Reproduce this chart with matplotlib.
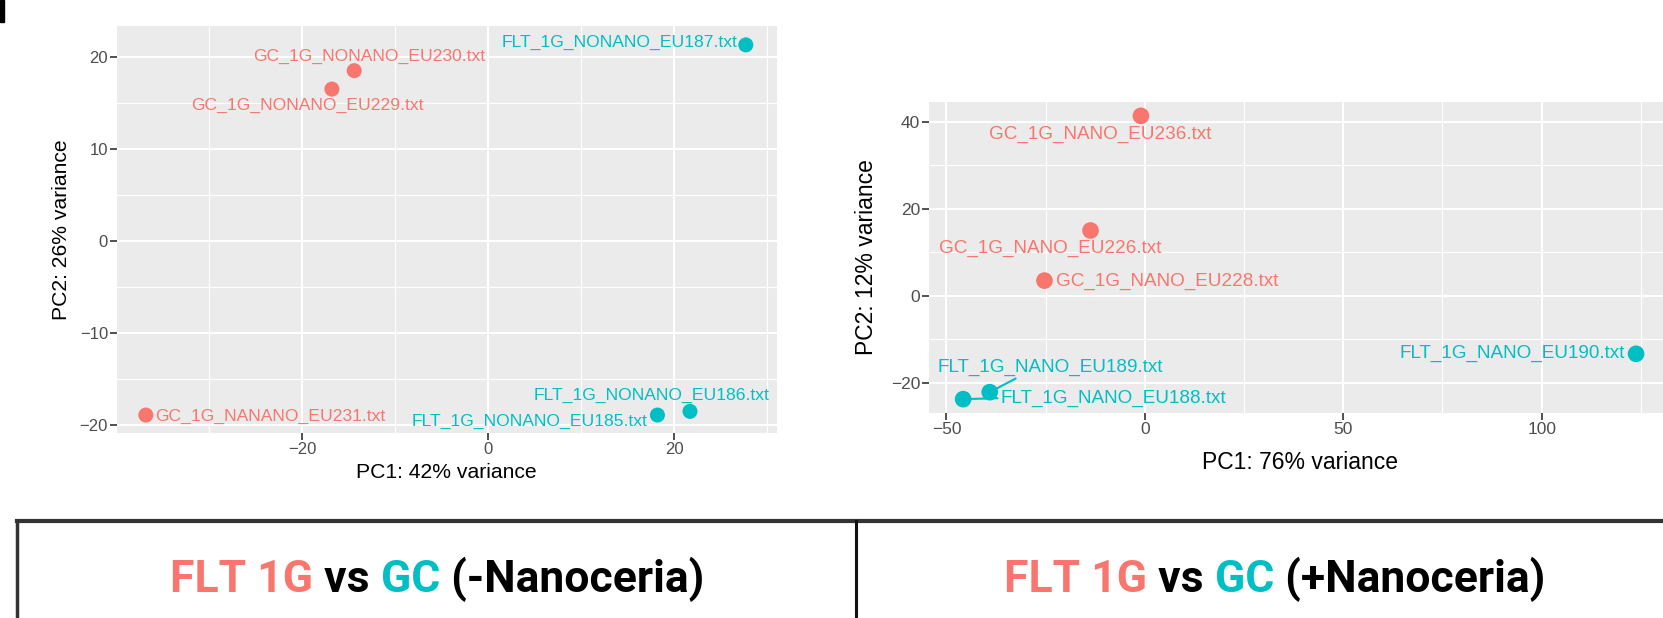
import matplotlib
matplotlib.use("Agg")
import matplotlib.pyplot as plt
from matplotlib.lines import Line2D
from matplotlib.patches import Rectangle

plt.rcParams['font.family'] = ['Liberation Sans', 'DejaVu Sans']

SALMON = "#F8766D"
TEAL = "#00BFC4"

# --- PCA, no nanoceria ---
nonano_names = ["GC_1G_NONANO_EU230.txt", "GC_1G_NONANO_EU229.txt", "FLT_1G_NONANO_EU187.txt",
                "GC_1G_NANANO_EU231.txt", "FLT_1G_NONANO_EU185.txt", "FLT_1G_NONANO_EU186.txt"]
nonano_group = ["GC", "GC", "FLT", "GC", "FLT", "FLT"]
nonano_pc1 = [-14.4, -16.8, 27.7, -36.8, 18.2, 21.7]
nonano_pc2 = [18.5, 16.5, 21.3, -18.9, -18.9, -18.5]

# --- PCA, with nanoceria ---
nano_names = ["GC_1G_NANO_EU236.txt", "GC_1G_NANO_EU226.txt", "GC_1G_NANO_EU228.txt",
              "FLT_1G_NANO_EU190.txt", "FLT_1G_NANO_EU189.txt", "FLT_1G_NANO_EU188.txt"]
nano_group = ["GC", "GC", "GC", "FLT", "FLT", "FLT"]
nano_pc1 = [-1.0, -13.7, -25.3, 123.8, -39.1, -45.8]
nano_pc2 = [41.3, 15.0, 3.5, -13.3, -22.1, -23.7]

# label offsets (points) as placed by ggrepel
nonano_offsets = [(11, 10.6), (-17.5, -11.5), (-90.8, 1.9), (89.6, -0.7), (-92, -4.3), (-27.6, 11.3)]
nano_offsets = [(-29, -13.4), (-29, -13.2), (88.2, -0.7), (-88.9, 0), (43.6, 18), (108, 0.7)]
nano_segments = [None, None, None, None, (0.37, 0.0), (0.0, 0.5)]

group_colors = {"GC": SALMON, "FLT": TEAL}


def pca_panel(ax, pc1, pc2, names, groups, offsets, xlim, ylim, xticks, yticks,
              xminor, yminor, xlabel, ylabel, label_size, point_size, title_size,
              segments=None):
    ax.set_facecolor("#EBEBEB")
    for s in ax.spines.values():
        s.set_visible(False)
    ax.set_xlim(*xlim)
    ax.set_ylim(*ylim)
    for v in xminor:
        ax.axvline(v, color="white", lw=0.8, zorder=0)
    for v in yminor:
        ax.axhline(v, color="white", lw=0.8, zorder=0)
    for v in xticks:
        ax.axvline(v, color="white", lw=1.5, zorder=0)
    for v in yticks:
        ax.axhline(v, color="white", lw=1.5, zorder=0)
    ax.set_xticks(xticks)
    ax.set_yticks(yticks)
    ax.tick_params(labelsize=12, labelcolor="#4D4D4D", color="#333333",
                   length=5, width=1.2, pad=1.5)
    colors = [group_colors[g] for g in groups]
    ax.scatter(pc1, pc2, s=point_size, c=colors, zorder=3, linewidths=0)
    for i, name in enumerate(names):
        kw = {}
        if segments is not None and segments[i] is not None:
            kw["arrowprops"] = dict(arrowstyle="-", color=colors[i], lw=1.5,
                                    relpos=segments[i], shrinkA=0, shrinkB=4)
        ax.annotate(name, (pc1[i], pc2[i]), xytext=offsets[i], textcoords="offset points",
                    ha="center", va="center", color=colors[i], fontsize=label_size,
                    zorder=4, **kw)
    ax.set_xlabel(xlabel, fontsize=title_size)
    ax.set_ylabel(ylabel, fontsize=title_size)


fig = plt.figure(figsize=(16.63, 6.18), dpi=100)

ax1 = fig.add_axes([117 / 1663, 185 / 618, 659.5 / 1663, 407 / 618])
pca_panel(ax1, nonano_pc1, nonano_pc2, nonano_names, nonano_group, nonano_offsets,
          (-39.9, 31.0), (-20.85, 23.35), [-20, 0, 20], [-20, -10, 0, 10, 20],
          [-30, -10, 10, 30], [-15, -5, 5, 15],
          "PC1: 42% variance", "PC2: 26% variance", 12.6, 117, 15.2)
ax1.xaxis.set_label_coords(0.5, -0.074)
ax1.yaxis.set_label_coords(-0.07, 0.5)

ax2 = fig.add_axes([929.4 / 1663, 204.7 / 618, 740.4 / 1663, 311.6 / 618])
pca_panel(ax2, nano_pc1, nano_pc2, nano_names, nano_group, nano_offsets,
          (-54.3, 132.3), (-26.95, 44.55), [-50, 0, 50, 100], [-20, 0, 20, 40],
          [-25, 25, 75, 125], [-10, 10, 30],
          "PC1: 76% variance", "PC2: 12% variance", 13.6, 144, 16.5, nano_segments)
ax2.tick_params(labelsize=12.5)
ax2.xaxis.set_label_coords(0.5, -0.122)
ax2.yaxis.set_label_coords(-0.07, 0.5)

# table lines under the plots
fig.add_artist(Line2D([0.0102, 1.0], [0.1574, 0.1574], color="#333333", lw=3))
fig.add_artist(Line2D([0.0102, 0.0102], [0.0, 0.1574], color="#333333", lw=2.5))
fig.add_artist(Line2D([0.5147, 0.5147], [0.0, 0.1574], color="#111111", lw=2.2))
fig.add_artist(Rectangle((0, 0.964), 0.0022, 0.036, color="black"))


def colored_title(pieces, cx, y):
    renderer = fig.canvas.get_renderer()
    texts = [fig.text(0, y, s, color=c, fontsize=32, fontweight="bold",
                      family="Roboto", va="baseline") for s, c in pieces]
    widths = [t.get_window_extent(renderer).width / fig.bbox.width for t in texts]
    x = cx - sum(widths) / 2
    for t, w in zip(texts, widths):
        t.set_x(x)
        x += w


colored_title([("FLT 1G", SALMON), (" vs ", "black"), ("GC", TEAL), (" (-Nanoceria)", "black")],
              0.2631, 26 / 618)
colored_title([("FLT 1G", SALMON), (" vs ", "black"), ("GC", TEAL), (" (+Nanoceria)", "black")],
              0.7667, 26 / 618)

fig.savefig("out.png", dpi=100)
